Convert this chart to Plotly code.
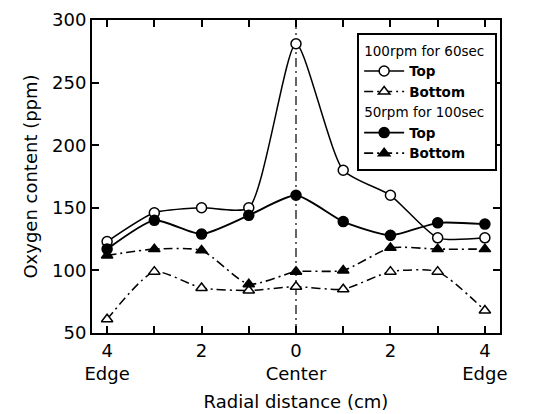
import plotly.graph_objects as go

radial = [-4, -3, -2, -1, 0, 1, 2, 3, 4]
top_100rpm = [123, 146, 150, 150, 281, 180, 160, 126, 126]
bottom_100rpm = [61, 99, 86, 84, 87, 85, 99, 99, 68]
top_50rpm = [117, 140, 129, 144, 160, 139, 128, 138, 137]
bottom_50rpm = [112, 117, 116, 89, 99, 100, 118, 117, 117]

tick_vals = [-4, -3, -2, -1, 0, 1, 2, 3, 4]
tick_text = ["4<br>Edge", "", "2", "", "0<br>Center", "", "2", "", "4<br>Edge"]

FONT = "DejaVu Sans, Liberation Sans, sans-serif"
DASHDOT = "9px,4px,2px,4px"
fig = go.Figure()

def add(y, name, symbol, fill, dash, width, group, gtitle=None):
    kw = {}
    if gtitle:
        kw["legendgrouptitle"] = dict(text=gtitle, font=dict(size=13.5, color="black", family=FONT))
    fig.add_trace(go.Scatter(
        x=radial, y=y, name=name, mode="lines+markers",
        line=dict(color="black", width=width, shape="spline", smoothing=0.6, dash=dash),
        marker=dict(symbol=symbol, size=10, color=fill, line=dict(color="black", width=1.5)),
        legendgroup=group, **kw))

add(top_100rpm, "<b>Top</b>", "circle", "white", "solid", 1.5, "g1", "100rpm for 60sec")
add(bottom_100rpm, "<b>Bottom</b>", "triangle-up", "white", DASHDOT, 1.5, "g1")
add(top_50rpm, "<b>Top</b>", "circle", "black", "solid", 1.9, "g2", "50rpm for 100sec")
add(bottom_50rpm, "<b>Bottom</b>", "triangle-up", "black", DASHDOT, 1.6, "g2")

fig.add_shape(type="line", x0=0, x1=0, y0=0, y1=1, xref="x", yref="paper",
              line=dict(color="black", width=1.2, dash=DASHDOT), layer="below")

# page body has an 8px default margin; figure sized/margined to compensate
fig.update_layout(
    width=527, height=406,
    margin=dict(l=84, r=35, t=12, b=81),
    paper_bgcolor="white", plot_bgcolor="white",
    font=dict(family=FONT, color="black", size=18),
    legend=dict(x=0.993, xanchor="right", y=0.958, yanchor="top",
                bordercolor="black", borderwidth=2, bgcolor="white",
                font=dict(size=13.5, color="black", family=FONT),
                tracegroupgap=0, itemwidth=40),
    showlegend=True,
)
fig.update_xaxes(range=[-4.32, 4.32], tickvals=tick_vals, ticktext=tick_text,
                 ticks="inside", ticklen=7, tickwidth=1.5, tickcolor="black",
                 showline=True, linecolor="black", linewidth=2, mirror="ticks",
                 showgrid=False, zeroline=False, automargin=False,
                 title=dict(text="Radial distance (cm)", font=dict(size=18), standoff=12),
                 tickfont=dict(size=18))
fig.update_yaxes(range=[50, 300], tickvals=[50, 100, 150, 200, 250, 300],
                 ticks="inside", ticklen=7, tickwidth=1.5, tickcolor="black",
                 showline=True, linecolor="black", linewidth=2, mirror="ticks",
                 showgrid=False, zeroline=False, automargin=False,
                 title=dict(text="Oxygen content (ppm)", font=dict(size=18), standoff=10),
                 tickfont=dict(size=18))

fig.write_html("out.html")
